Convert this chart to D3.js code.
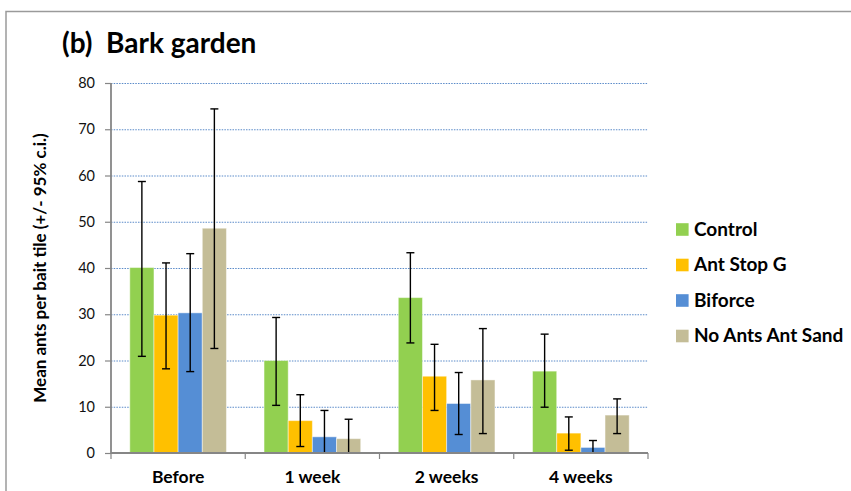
<!DOCTYPE html>
<html>
<head>
<meta charset="utf-8">
<script src="https://cdn.jsdelivr.net/npm/d3@7"></script>
<style>
  body { margin: 0; background: #fff; }
  svg { display: block; font-family: Lato, "Open Sans", sans-serif; }
</style>
</head>
<body>
<svg id="chart" width="851" height="491"></svg>
<script>
const categories = ["Before", "1 week", "2 weeks", "4 weeks"];
const seriesNames = ["Control", "Ant Stop G", "Biforce", "No Ants Ant Sand"];
const seriesColors = ["#92D050", "#FFC000", "#558ED5", "#C4BD97"];
// mean values per series (rows) by category (columns)
const means = [
  [40.1, 20.0, 33.6, 17.7],
  [29.8, 7.0, 16.6, 4.3],
  [30.3, 3.5, 10.7, 1.2],
  [48.6, 3.1, 15.8, 8.2]
];
const ciUpper = [
  [58.7, 29.3, 43.3, 25.7],
  [41.1, 12.6, 23.5, 7.8],
  [43.1, 9.2, 17.4, 2.7],
  [74.4, 7.3, 26.9, 11.7]
];
const ciLower = [
  [20.9, 10.3, 23.8, 9.9],
  [18.2, 1.4, 9.2, 0.6],
  [17.6, -2.2, 4.0, -0.3],
  [22.6, -1.1, 4.2, 4.2]
];
const yTicks = [0, 10, 20, 30, 40, 50, 60, 70, 80];

const svg = d3.select("#chart");
const mLeft = 111, mRight = 648, mTop = 83, mBottom = 453;

// outer frame
svg.append("path").attr("d", `M6,491 L6,11.5 L851,11.5`).attr("fill", "none")
  .attr("stroke", "#9a9a9a").attr("stroke-width", 1.5);

const x = d3.scaleBand().domain(categories).range([mLeft, mRight]).paddingInner(0.28).paddingOuter(0.14);
const xOuter = d3.scaleBand().domain(categories).range([mLeft, mRight]);
const xs = d3.scaleBand().domain(seriesNames).range([0, x.bandwidth()]);
const y = d3.scaleLinear().domain([0, 80]).range([mBottom, mTop]);

// gridlines
svg.append("g").selectAll("line").data(yTicks.filter(d => d > 0)).join("line")
  .attr("x1", mLeft).attr("x2", mRight)
  .attr("y1", d => y(d) + 0.5).attr("y2", d => y(d) + 0.5)
  .attr("stroke", "#5B8BC9").attr("stroke-width", 1).attr("stroke-dasharray", "1.5,1.2");

// bars
const groups = svg.append("g").selectAll("g").data(seriesNames).join("g");
groups.each(function(s, si) {
  const g = d3.select(this);
  categories.forEach((c, ci) => {
    const bx = xOuter(c) + (xOuter.bandwidth() - x.bandwidth()) / 2 + xs(s);
    g.append("rect")
      .attr("x", bx).attr("width", xs.bandwidth())
      .attr("y", y(means[si][ci])).attr("height", y(0) - y(means[si][ci]))
      .attr("fill", seriesColors[si])
      .attr("stroke", "#ffffff").attr("stroke-opacity", 0.45).attr("stroke-width", 1);
  });
});

// error bars
const eb = svg.append("g");
seriesNames.forEach((s, si) => {
  categories.forEach((c, ci) => {
    const cx = xOuter(c) + (xOuter.bandwidth() - x.bandwidth()) / 2 + xs(s) + xs.bandwidth() / 2;
    const hi = ciUpper[si][ci], lo = Math.max(0, ciLower[si][ci]);
    eb.append("line").attr("x1", cx).attr("x2", cx).attr("y1", y(hi)).attr("y2", y(lo))
      .attr("stroke", "#000").attr("stroke-width", 1.4);
    eb.append("line").attr("x1", cx - 4).attr("x2", cx + 4).attr("y1", y(hi)).attr("y2", y(hi))
      .attr("stroke", "#000").attr("stroke-width", 1.4);
    if (ciLower[si][ci] > 0) {
      eb.append("line").attr("x1", cx - 4).attr("x2", cx + 4).attr("y1", y(lo)).attr("y2", y(lo))
        .attr("stroke", "#000").attr("stroke-width", 1.4);
    }
  });
});

// y axis
const yAxis = svg.append("g").attr("transform", `translate(${mLeft},0)`)
  .call(d3.axisLeft(y).tickValues(yTicks).tickSize(6).tickPadding(10).tickFormat(d3.format("d")));
yAxis.select(".domain").attr("stroke", "#868686").attr("stroke-width", 1.8).attr("d", `M0,${mTop}V${mBottom}`);
yAxis.selectAll(".tick line").attr("stroke", "#868686").attr("stroke-width", 1.2);
yAxis.selectAll(".tick text").attr("font-size", 14.5).attr("fill", "#111").attr("font-family", "Lato, sans-serif");

// x axis
const xAxis = svg.append("g").attr("transform", `translate(0,${mBottom})`)
  .call(d3.axisBottom(xOuter).tickSize(0).tickPadding(17));
xAxis.select(".domain").attr("stroke", "#868686").attr("stroke-width", 1.8).attr("d", `M${mLeft},0H${mRight}`);
xAxis.selectAll(".tick text").attr("font-size", 17.5).attr("font-weight", "bold").attr("fill", "#000")
  .attr("font-family", "Lato, sans-serif").attr("dy", null).attr("y", 30);
// category boundary ticks
svg.append("g").selectAll("line").data(categories.concat(["end"])).join("line")
  .attr("x1", (d, i) => i < categories.length ? xOuter(d) : mRight)
  .attr("x2", (d, i) => i < categories.length ? xOuter(d) : mRight)
  .attr("y1", mBottom).attr("y2", mBottom + 6)
  .attr("stroke", "#868686").attr("stroke-width", 1.2);

// title
svg.append("text").attr("x", 62).attr("y", 53).attr("font-size", 28).attr("font-weight", "bold")
  .attr("fill", "#000").attr("xml:space", "preserve").text("(b)  Bark garden");

// y axis title
svg.append("text").attr("transform", `translate(46,268) rotate(-90)`).attr("text-anchor", "middle")
  .attr("font-size", 17).attr("font-weight", "bold").attr("fill", "#000")
  .text("Mean ants per bait tile (+/- 95% c.i.)");

// legend
const leg = svg.append("g").selectAll("g").data(seriesNames).join("g")
  .attr("transform", (d, i) => `translate(676,${229.5 + i * 35.5})`);
leg.append("rect").attr("x", 0).attr("y", -6.3).attr("width", 12.6).attr("height", 12.6)
  .attr("fill", (d, i) => seriesColors[i]);
leg.append("text").attr("x", 18).attr("y", 6.3).attr("font-size", 19).attr("font-weight", "bold")
  .attr("fill", "#000").text(d => d);
</script>
</body>
</html>
